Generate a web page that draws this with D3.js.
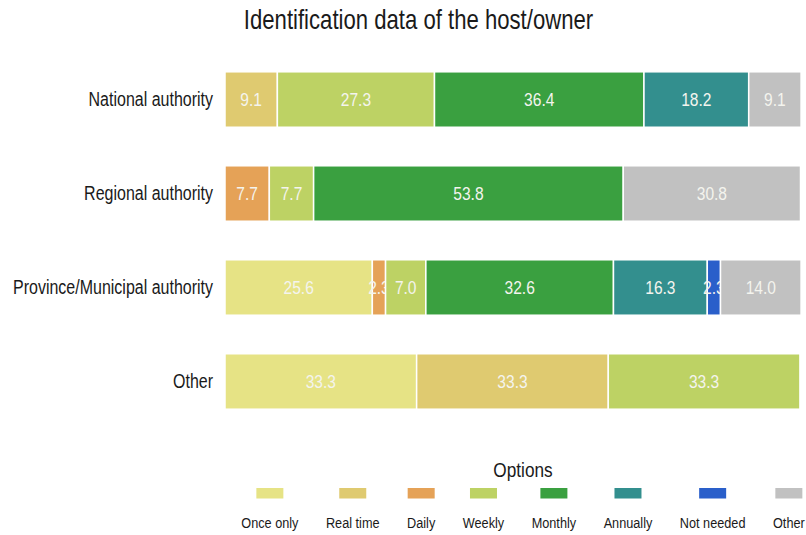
<!DOCTYPE html>
<html>
<head>
<meta charset="utf-8">
<script src="https://cdn.jsdelivr.net/npm/d3@7"></script>
<style>
  body { margin: 0; background: #fff; }
  text { font-family: "Liberation Sans", Arial, sans-serif; }
</style>
</head>
<body>
<svg id="chart" width="806" height="535"></svg>
<script>
var categories = ["National authority", "Regional authority", "Province/Municipal authority", "Other"];
var options = ["Once only", "Real time", "Daily", "Weekly", "Monthly", "Annually", "Not needed", "Other"];
var colors = ["#e6e385", "#dfca70", "#e5a257", "#bdd264", "#3aa040", "#338f8e", "#2a5fca", "#c1c1c1"];

// one array per option, in category order
var onceOnly  = [0, 0, 25.6, 33.3];
var realTime  = [9.1, 0, 0, 33.3];
var daily     = [0, 7.7, 2.3, 0];
var weekly    = [27.3, 7.7, 7.0, 33.3];
var monthly   = [36.4, 53.8, 32.6, 0];
var annually  = [18.2, 0, 16.3, 0];
var notNeeded = [0, 0, 2.3, 0];
var otherOpt  = [9.1, 30.8, 14.0, 0];
var series = [onceOnly, realTime, daily, weekly, monthly, annually, notNeeded, otherOpt];

var title = "Identification data of the host/owner";
var legendTitle = "Options";

// no narrow font installed, so squeeze text horizontally
var squeeze = 0.82;
function narrow(sel, px, py) {
  sel.attr("x", null).attr("y", null)
    .attr("transform", function (d, i) {
      return "translate(" + px(d, i) + "," + py(d, i) + ") scale(" + squeeze + ",1)";
    });
}

var svg = d3.select("#chart");

var rows = categories.map(function (c, i) {
  var r = { category: c };
  options.forEach(function (o, j) { r[o] = series[j][i]; });
  return r;
});

var x = d3.scaleLinear().domain([0, 100]).range([225, 800.5]);
var y = d3.scaleBand().domain(categories).range([53, 428]).paddingInner(0.41).paddingOuter(0.2);
var color = d3.scaleOrdinal().domain(options).range(colors);

var stacked = d3.stack().keys(options)(rows);

svg.append("text")
  .attr("text-anchor", "middle")
  .style("font-size", "27px").style("fill", "#1a1a1a")
  .text(title)
  .call(narrow, function () { return 418.5; }, function () { return 29; });

var layers = svg.append("g").selectAll("g")
  .data(stacked).enter().append("g")
  .attr("fill", function (d) { return color(d.key); });

layers.selectAll("rect")
  .data(function (d) { return d.filter(function (s) { return s[1] - s[0] > 0; }); })
  .enter().append("rect")
  .attr("x", function (d) { return x(d[0]); })
  .attr("y", function (d) { return y(d.data.category); })
  .attr("width", function (d) { return x(d[1]) - x(d[0]); })
  .attr("height", y.bandwidth())
  .attr("stroke", "#fff")
  .attr("stroke-width", 1.5);

layers.selectAll("text")
  .data(function (d) { return d.filter(function (s) { return s[1] - s[0] > 0; }); })
  .enter().append("text")
  .attr("dy", "0.36em")
  .attr("text-anchor", "middle")
  .style("font-size", "19px").style("fill", "#f4f4ee")
  .text(function (d) { return d3.format(".1f")(d[1] - d[0]); })
  .call(narrow,
    function (d) { return (x(d[0]) + x(d[1])) / 2; },
    function (d) { return y(d.data.category) + y.bandwidth() / 2; });

var yAxis = svg.append("g")
  .attr("transform", "translate(" + (x.range()[0] - 10) + ",0)")
  .call(d3.axisLeft(y).tickSize(0).tickPadding(2));
yAxis.select(".domain").remove();
yAxis.selectAll("text")
  .style("font-family", "\"Liberation Sans\", Arial, sans-serif")
  .style("font-size", "19.5px").style("fill", "#1a1a1a")
  .call(narrow, function () { return -2; }, function () { return 0; });

// legend: labels below swatches, spaced by label width
var legend = svg.append("g");
legend.append("text")
  .attr("text-anchor", "middle")
  .style("font-size", "21px").style("fill", "#1a1a1a")
  .text(legendTitle)
  .call(narrow, function () { return 523; }, function () { return 477; });

var items = legend.selectAll("g.item").data(options).enter().append("g").attr("class", "item");
items.append("text")
  .attr("text-anchor", "middle")
  .style("font-size", "15.5px").style("fill", "#1a1a1a")
  .text(function (d) { return d; })
  .call(narrow, function () { return 0; }, function () { return 528; });
var widths = [];
items.selectAll("text").each(function () { widths.push(this.getComputedTextLength() * squeeze); });
var gap = 27.5;
var total = d3.sum(widths) + gap * (widths.length - 1);
var cx = 523 - total / 2;
var centers = widths.map(function (w) { var c = cx + w / 2; cx += w + gap; return c; });
items.attr("transform", function (d, i) { return "translate(" + centers[i] + ",0)"; });
items.append("rect")
  .attr("x", -13.5).attr("y", 488)
  .attr("width", 27).attr("height", 10.5)
  .attr("fill", function (d) { return color(d); });
</script>
</body>
</html>
